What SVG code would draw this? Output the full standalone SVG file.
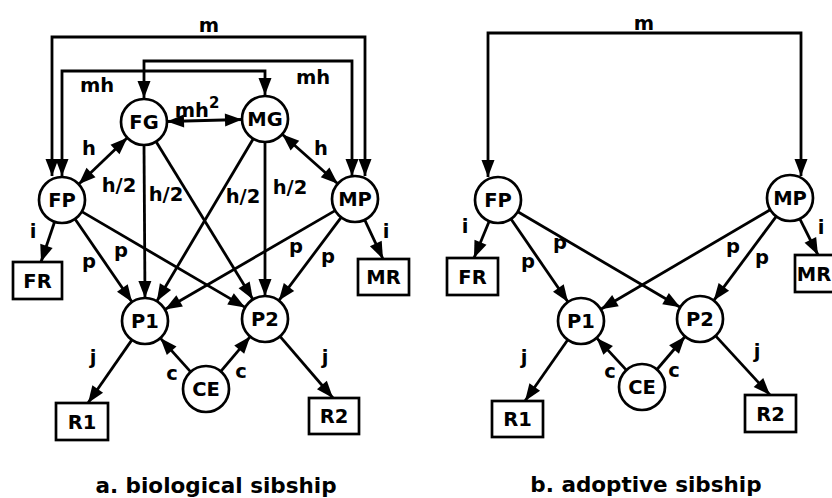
<svg xmlns="http://www.w3.org/2000/svg" width="832" height="498" viewBox="0 0 832 498">
  <style>
    .node circle { fill: #fff; stroke: #000; stroke-width: 2.7; }
    .node rect { fill: #fff; stroke: #000; stroke-width: 2.7; }
    .node text, .lbl { font-family: "DejaVu Sans", "Liberation Sans", sans-serif; font-weight: bold; font-size: 19.5px; fill: #000; text-anchor: middle; }
    .cap { font-family: "DejaVu Sans", "Liberation Sans", sans-serif; font-weight: bold; font-size: 21.5px; fill: #000; text-anchor: middle; }
    .edges path { fill: none; stroke: #000; stroke-width: 2.8; }
    .one { marker-end: url(#ah); }
    .two { marker-start: url(#ah); marker-end: url(#ah); }
  </style>
  <defs>
    <marker id="ah" markerUnits="userSpaceOnUse" markerWidth="20" markerHeight="16" refX="17" refY="8" orient="auto-start-reverse" overflow="visible">
      <path d="M0,1.5 L17,8 L0,14.5 z" fill="#000" stroke="none"/>
    </marker>
  </defs>
  <rect width="832" height="498" fill="#fff"/>

  <!-- a. biological sibship: connectors -->
  <g id="edges-a" class="edges">
    <path class="two" d="M52,176 V37 H365 V176"/>
    <path class="two" d="M144,98 V61 H352 V176"/>
    <path class="two" d="M62,176 V71 H265 V95"/>
    <path class="two" d="M167,121.5 L242,119.5"/>
    <path class="two" d="M78.7,184.2 L127.3,137.8"/>
    <path class="two" d="M282.2,134.3 L337.8,183.7"/>
    <path class="one" d="M144,145 L145,298"/>
    <path class="one" d="M156,141.6 L253,299.4"/>
    <path class="one" d="M253.3,138.8 L156.8,301.2"/>
    <path class="one" d="M265,142 L265,296"/>
    <path class="one" d="M75,219 L132,302"/>
    <path class="one" d="M81.8,211.6 L245.2,307.4"/>
    <path class="one" d="M335.1,210.6 L164.9,309.5"/>
    <path class="one" d="M341.2,217.4 L278.8,300.6"/>
    <path class="one" d="M54.6,221.8 L41,262"/>
    <path class="one" d="M364.7,219.8 L383,259"/>
    <path class="one" d="M131.9,339.9 L88,403"/>
    <path class="one" d="M280,336.4 L333,398"/>
    <path class="one" d="M190.7,371.9 L160.3,338.1"/>
    <path class="one" d="M220.8,371.4 L250.2,336.6"/>
  </g>

  <!-- a. connector labels -->
  <g id="labels-a">
    <text class="lbl" x="209" y="32">m</text>
    <text class="lbl" x="97" y="92">mh</text>
    <text class="lbl" x="313" y="84">mh</text>
    <text class="lbl" x="197" y="117">mh<tspan font-size="15" dy="-9">2</tspan></text>
    <text class="lbl" x="89" y="155">h</text>
    <text class="lbl" x="321" y="155">h</text>
    <text class="lbl" x="119" y="192">h/2</text>
    <text class="lbl" x="166" y="201">h/2</text>
    <text class="lbl" x="243" y="203">h/2</text>
    <text class="lbl" x="290" y="194">h/2</text>
    <text class="lbl" x="33" y="238">i</text>
    <text class="lbl" x="386" y="238">i</text>
    <text class="lbl" x="89" y="268">p</text>
    <text class="lbl" x="121" y="257">p</text>
    <text class="lbl" x="296" y="253">p</text>
    <text class="lbl" x="328" y="263">p</text>
    <text class="lbl" x="93" y="364">j</text>
    <text class="lbl" x="325" y="364">j</text>
    <text class="lbl" x="172" y="380">c</text>
    <text class="lbl" x="241" y="378">c</text>
  </g>

  <!-- a. nodes -->
  <g id="a-FG" class="node"><circle cx="144" cy="122" r="23"/><text x="144" y="129">FG</text></g>
  <g id="a-MG" class="node"><circle cx="265" cy="119" r="23"/><text x="265" y="126">MG</text></g>
  <g id="a-FP" class="node"><circle cx="62" cy="200" r="23"/><text x="62" y="207">FP</text></g>
  <g id="a-MP" class="node"><circle cx="355" cy="199" r="23"/><text x="355" y="206">MP</text></g>
  <g id="a-P1" class="node"><circle cx="145" cy="321" r="23"/><text x="145" y="328">P1</text></g>
  <g id="a-P2" class="node"><circle cx="265" cy="319" r="23"/><text x="265" y="326">P2</text></g>
  <g id="a-CE" class="node"><circle cx="206" cy="389" r="23"/><text x="206" y="396">CE</text></g>
  <g id="a-FR" class="node"><rect x="13" y="262" width="49" height="37"/><text x="37.5" y="287.5">FR</text></g>
  <g id="a-MR" class="node"><rect x="358" y="259" width="51" height="36"/><text x="383.5" y="284">MR</text></g>
  <g id="a-R1" class="node"><rect x="56" y="403" width="52" height="37"/><text x="82" y="428.5">R1</text></g>
  <g id="a-R2" class="node"><rect x="309" y="398" width="50" height="36"/><text x="334" y="423">R2</text></g>
  <text class="cap" x="216" y="493">a. biological sibship</text>

  <!-- b. adoptive sibship: connectors -->
  <g id="edges-b" class="edges">
    <path class="two" d="M488,177 V33 H801 V176"/>
    <path class="one" d="M489.2,221.2 L474,258"/>
    <path class="one" d="M799.8,218.8 L818,255"/>
    <path class="one" d="M511,219 L568,302"/>
    <path class="one" d="M517.8,211.7 L680.2,307.3"/>
    <path class="one" d="M770.2,209.7 L600.8,309.3"/>
    <path class="one" d="M776.3,216.4 L713.7,300.6"/>
    <path class="one" d="M567.8,339.8 L525,401"/>
    <path class="one" d="M715.6,335.9 L770,395"/>
    <path class="one" d="M626.4,370.1 L596.6,337.9"/>
    <path class="one" d="M656.9,369.5 L685.1,336.5"/>
  </g>

  <!-- b. connector labels -->
  <g id="labels-b">
    <text class="lbl" x="644" y="30">m</text>
    <text class="lbl" x="465" y="233">i</text>
    <text class="lbl" x="821" y="234">i</text>
    <text class="lbl" x="528" y="268">p</text>
    <text class="lbl" x="560" y="249">p</text>
    <text class="lbl" x="733" y="253">p</text>
    <text class="lbl" x="762" y="264">p</text>
    <text class="lbl" x="524" y="364">j</text>
    <text class="lbl" x="757" y="358">j</text>
    <text class="lbl" x="610" y="378">c</text>
    <text class="lbl" x="674" y="377">c</text>
  </g>

  <!-- b. nodes -->
  <g id="b-FP" class="node"><circle cx="498" cy="200" r="23"/><text x="498" y="207">FP</text></g>
  <g id="b-MP" class="node"><circle cx="790" cy="198" r="23"/><text x="790" y="205">MP</text></g>
  <g id="b-P1" class="node"><circle cx="581" cy="321" r="23"/><text x="581" y="328">P1</text></g>
  <g id="b-P2" class="node"><circle cx="700" cy="319" r="23"/><text x="700" y="326">P2</text></g>
  <g id="b-CE" class="node"><circle cx="642" cy="387" r="23"/><text x="642" y="394">CE</text></g>
  <g id="b-FR" class="node"><rect x="447" y="258" width="51" height="37"/><text x="472.5" y="283.5">FR</text></g>
  <g id="b-MR" class="node"><rect x="795" y="255" width="50" height="37"/><text x="814" y="280.5">MR</text></g>
  <g id="b-R1" class="node"><rect x="492" y="401" width="51" height="36"/><text x="517.5" y="426">R1</text></g>
  <g id="b-R2" class="node"><rect x="745" y="395" width="51" height="37"/><text x="770.5" y="420.5">R2</text></g>
  <text class="cap" x="646" y="492">b. adoptive sibship</text>
</svg>
